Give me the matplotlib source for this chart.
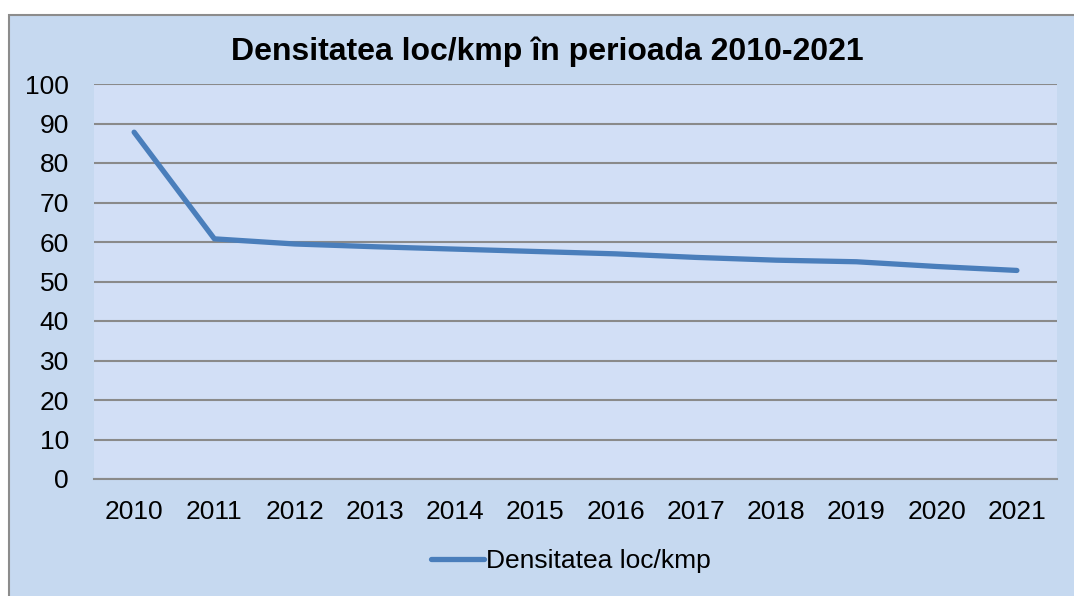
import matplotlib
matplotlib.use("Agg")
import matplotlib.pyplot as plt
from matplotlib.patches import Rectangle

years = [2010, 2011, 2012, 2013, 2014, 2015, 2016, 2017, 2018, 2019, 2020, 2021]
densitate = [87.8, 60.8, 59.5, 58.8, 58.2, 57.6, 57.0, 56.1, 55.4, 55.0, 53.8, 52.8]
yticks = list(range(0, 101, 10))

plt.rcParams["font.family"] = ["Liberation Sans", "DejaVu Sans"]

fig = plt.figure(figsize=(10.74, 5.96), dpi=100)
fig.patch.set_facecolor("white")

# outer chart frame (behind the axes)
fig.patches.append(Rectangle((9 / 1074, -0.01), 1.0, 1 - 15 / 596 + 0.01,
                             transform=fig.transFigure, facecolor="#c6d9f0",
                             edgecolor="#8c8c8c", lw=1.5, zorder=-1))

ax = fig.add_axes([94 / 1074, 1 - 479 / 596, 963 / 1074, 395 / 596])
ax.set_facecolor("#d2dff6")
x = list(range(len(years)))
ax.plot(x, densitate, color="#4a7ebb", lw=3.8, solid_capstyle="round",
        solid_joinstyle="round", label="Densitatea loc/kmp", zorder=3)

ax.set_xlim(-0.5, len(years) - 0.5)
ax.set_ylim(0, 100)
ax.set_yticks(yticks)
ax.set_xticks(x)
ax.set_xticklabels([str(y) for y in years])
ax.tick_params(axis="both", length=0, labelsize=19)
ax.tick_params(axis="x", pad=15)
ax.tick_params(axis="y", pad=18)
ax.grid(axis="y", color="#8a8a8a", lw=1.5)
ax.set_axisbelow(True)
for s in ("top", "right", "left"):
    ax.spines[s].set_visible(False)
ax.spines["bottom"].set_color("#8a8a8a")
ax.spines["bottom"].set_linewidth(1.5)

fig.text(547 / 1074, 1 - 52 / 596, "Densitatea loc/kmp în perioada 2010-2021",
         ha="center", va="center", fontsize=23, fontweight="bold")

fig.legend(loc="center", bbox_to_anchor=(571 / 1074, 1 - 561 / 596),
           frameon=False, fontsize=19, handlelength=2.0, handletextpad=0.1)

fig.savefig("out.png", dpi=100)
